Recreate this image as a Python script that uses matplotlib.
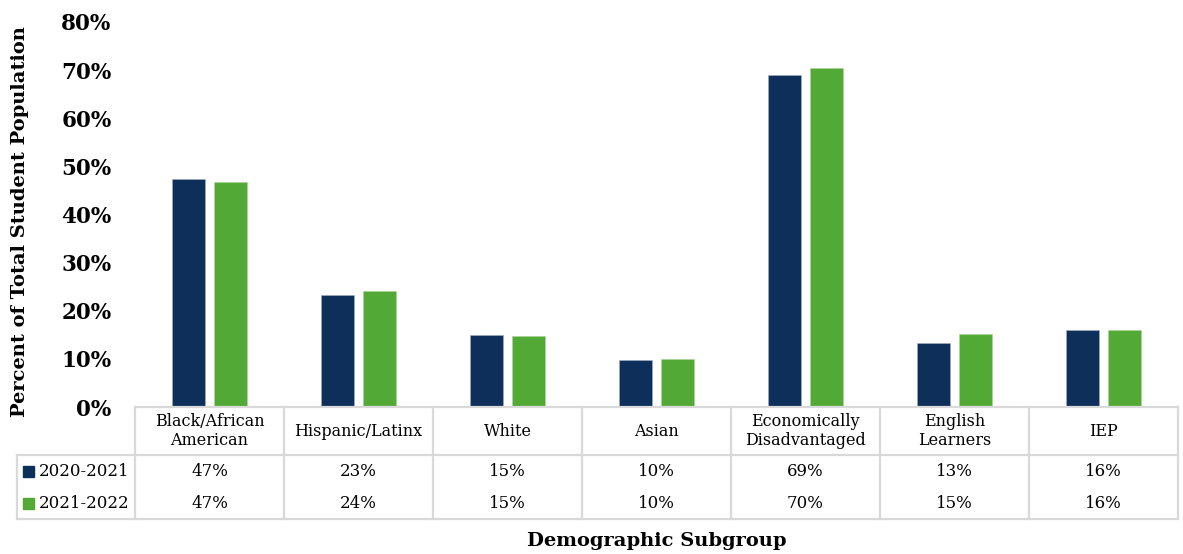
import numpy as np
import matplotlib.pyplot as plt
from matplotlib.lines import Line2D
from matplotlib.patches import Rectangle

categories = ["Black/African\nAmerican", "Hispanic/Latinx", "White", "Asian",
              "Economically\nDisadvantaged", "English\nLearners", "IEP"]
series = ["2020-2021", "2021-2022"]
vals_2021 = [47.4, 23.2, 14.9, 9.8, 68.9, 13.4, 16.0]
vals_2022 = [46.8, 24.2, 14.7, 9.9, 70.4, 15.2, 15.9]
labels_2021 = ["47%", "23%", "15%", "10%", "69%", "13%", "16%"]
labels_2022 = ["47%", "24%", "15%", "10%", "70%", "15%", "16%"]
colors = ["#0E2F5A", "#53A935"]

plt.rcParams['font.family'] = ['DejaVu Serif']

fig = plt.figure(figsize=(11.83, 5.54), dpi=100)
ax = fig.add_axes([135/1183, (554-407)/554, (1178-135)/1183, 385/554])

x = np.arange(len(categories))
ax.bar(x - 0.14, vals_2021, width=0.22, color=colors[0], edgecolor="#9fb0c8", linewidth=0.4)
ax.bar(x + 0.14, vals_2022, width=0.22, color=colors[1], edgecolor="#a8d69a", linewidth=0.4)

ax.set_xlim(-0.5, len(categories) - 0.5)
ax.set_ylim(0, 80)
ax.set_yticks(range(0, 81, 10))
ax.set_yticklabels([f"{v}%" for v in range(0, 81, 10)], fontsize=15.5, fontweight="bold")
ax.tick_params(axis="y", length=0, pad=17)
ax.set_xticks([])
for s in ax.spines.values():
    s.set_visible(False)

# data table under the plot
tr = ax.get_xaxis_transform()
def fy(px):
    return (407 - px) / 385.0

grid_c = "#D9D9D9"
lw = 1.6
left = -0.5 - (135 - 17) / 149.0
right = len(categories) - 0.5
lines = [
    ([-0.5, right], [fy(407), fy(407)]),
    ([left, right], [fy(455), fy(455)]),
    ([left, right], [fy(519), fy(519)]),
    ([left, left], [fy(455), fy(519)]),
]
for b in np.arange(-0.5, len(categories), 1.0):
    lines.append(([b, b], [fy(407), fy(519)]))
for xs, ys in lines:
    ax.add_line(Line2D(xs, ys, transform=tr, color=grid_c, lw=lw, clip_on=False))

for i, c in enumerate(categories):
    ax.text(i, fy(431), c, transform=tr, ha="center", va="center", fontsize=11.5,
            linespacing=1.15, clip_on=False)
    ax.text(i, fy(471), labels_2021[i], transform=tr, ha="center", va="center",
            fontsize=12, clip_on=False)
    ax.text(i, fy(503), labels_2022[i], transform=tr, ha="center", va="center",
            fontsize=12, clip_on=False)

for j, (name, yy) in enumerate(zip(series, [471, 503])):
    fig.add_artist(Rectangle((23/1183, (554-yy-5.5)/554), 11/1183, 11/554,
                             transform=fig.transFigure, color=colors[j]))
    fig.text(39/1183, (554-yy)/554, name, ha="left", va="center", fontsize=12)

fig.text(20/1183, (554-222)/554, "Percent of Total Student Population", rotation=90,
         ha="center", va="center", fontsize=14, fontweight="bold")
fig.text(657/1183, (554-541)/554, "Demographic Subgroup", ha="center", va="center",
         fontsize=14, fontweight="bold")

fig.savefig("out.png", dpi=100)
